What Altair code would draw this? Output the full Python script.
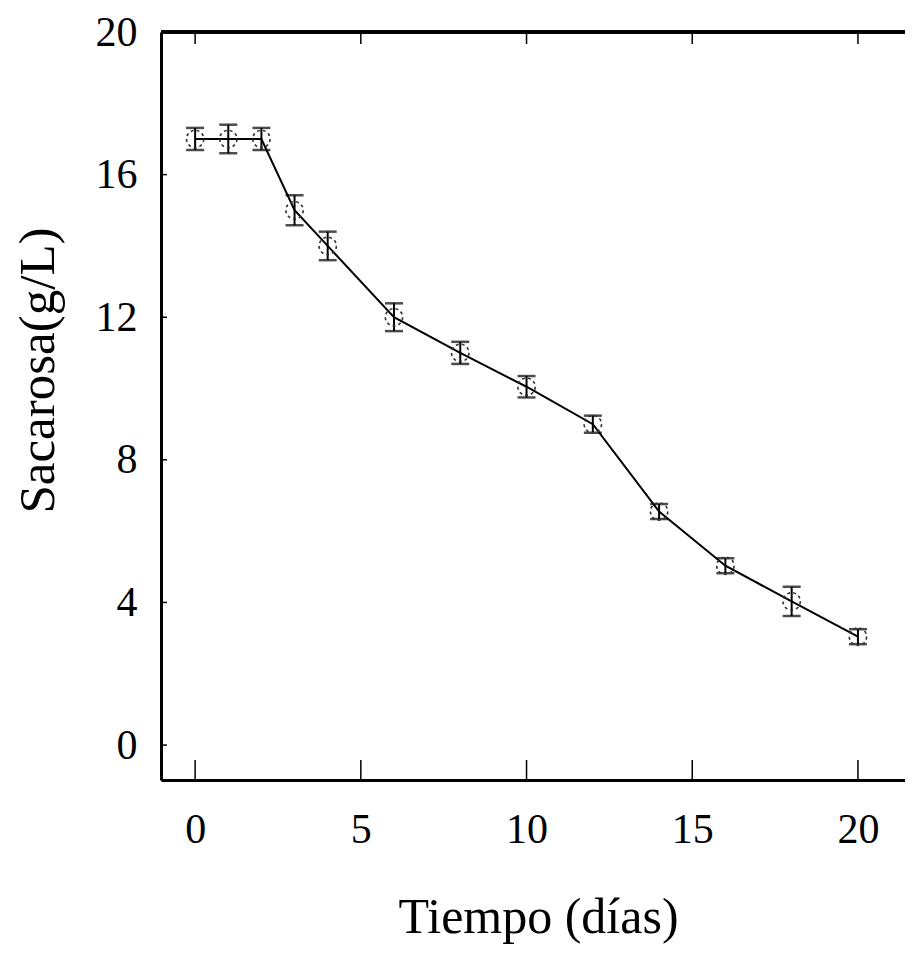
import altair as alt
import pandas as pd

# Data
dias = [0, 1, 2, 3, 4, 6, 8, 10, 12, 14, 16, 18, 20]
sacarosa = [17.0, 17.0, 17.0, 15.0, 14.0, 12.0, 11.0, 10.05, 9.0, 6.55, 5.03, 4.03, 3.04]
error = [0.31, 0.4, 0.31, 0.42, 0.4, 0.39, 0.31, 0.3, 0.24, 0.21, 0.21, 0.41, 0.21]

x_ticks = [0, 5, 10, 15, 20]
y_ticks = [0, 4, 8, 12, 16, 20]

df = pd.DataFrame({"t": dias, "s": sacarosa, "e": error})
df["lo"] = df["s"] - df["e"]
df["hi"] = df["s"] + df["e"]

xt = pd.DataFrame({"v": x_ticks})
yt = pd.DataFrame({"v": y_ticks})

W, H = 744, 748
FONT = "Liberation Serif"

xs = alt.Scale(domain=[-1.03, 21.42], nice=False, zero=False)
ys = alt.Scale(domain=[-0.98, 20], nice=False, zero=False)

x_axis = alt.Axis(
    values=x_ticks, title="Tiempo (días)", grid=False, ticks=False, tickSize=0,
    domainColor="black", domainWidth=3,
    labelFont=FONT, labelFontSize=42, labelColor="black", labelBaseline="alphabetic",
    labelPadding=62, labelFlush=False,
    titleFont=FONT, titleFontSize=50, titleFontWeight="normal", titleColor="black",
    titleBaseline="alphabetic", titleAlign="center", titleX=377, titleY=152,
)
y_axis = alt.Axis(
    values=y_ticks, title="Sacarosa(g/L)", grid=False, ticks=False, tickSize=0,
    domainColor="black", domainWidth=3,
    labelFont=FONT, labelFontSize=42, labelColor="black", labelPadding=24,
    labelFlush=False,
    titleFont=FONT, titleFontSize=51, titleFontWeight="normal", titleColor="black",
    titleBaseline="alphabetic", titleAlign="center", titleAngle=270, titleX=-108, titleY=338,
)

base = alt.Chart(df)

line = base.mark_line(color="black", strokeWidth=2).encode(
    x=alt.X("t:Q", scale=xs, axis=x_axis),
    y=alt.Y("s:Q", scale=ys, axis=y_axis),
)
bars = base.mark_rule(color="black", strokeWidth=2).encode(
    x=alt.X("t:Q", scale=xs), y=alt.Y("lo:Q", scale=ys), y2="hi:Q"
)
cap_lo = base.mark_tick(orient="horizontal", color="black", size=18, thickness=2.5).encode(
    x=alt.X("t:Q", scale=xs), y=alt.Y("lo:Q", scale=ys)
)
cap_hi = base.mark_tick(orient="horizontal", color="black", size=18, thickness=2.5).encode(
    x=alt.X("t:Q", scale=xs), y=alt.Y("hi:Q", scale=ys)
)
pts = base.mark_point(shape="circle", size=300, filled=False, color="#333",
                      strokeWidth=1.6, strokeDash=[3, 3], opacity=1).encode(
    x=alt.X("t:Q", scale=xs), y=alt.Y("s:Q", scale=ys)
)

top_border = alt.Chart(xt).mark_rule(color="black", strokeWidth=3).encode(
    x=alt.value(0), x2=alt.value(W), y=alt.value(0)
)
bottom_ticks = alt.Chart(xt).mark_rule(color="black", strokeWidth=1.5).encode(
    x=alt.X("v:Q", scale=xs), y=alt.value(H), y2=alt.value(H - 20)
)
top_ticks = alt.Chart(xt).mark_rule(color="black", strokeWidth=1.5).encode(
    x=alt.X("v:Q", scale=xs), y=alt.value(0), y2=alt.value(12)
)
left_ticks = alt.Chart(yt).mark_rule(color="black", strokeWidth=1.5).encode(
    y=alt.Y("v:Q", scale=ys), x=alt.value(0), x2=alt.value(6)
)

chart = alt.layer(
    line, bars, cap_lo, cap_hi, pts, top_border, bottom_ticks, top_ticks, left_ticks
).properties(
    width=W, height=H,
    padding={"left": 153, "top": 24, "right": 0, "bottom": 170},
    autosize=alt.AutoSizeParams(type="none"),
    background="white",
).configure_view(stroke=None)

chart.save("out.html", embed_options={"renderer": "svg", "actions": False})
